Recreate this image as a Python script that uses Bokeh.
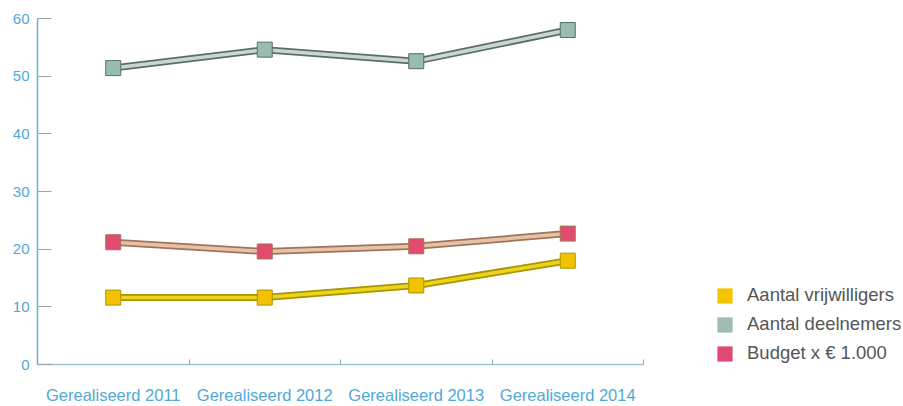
from bokeh.plotting import figure
from bokeh.models import Range1d, FixedTicker, LinearAxis, Legend, LegendItem, ColumnDataSource
from bokeh.embed import file_html
from bokeh.resources import INLINE

categories = ["Gerealiseerd 2011", "Gerealiseerd 2012", "Gerealiseerd 2013", "Gerealiseerd 2014"]
vrijwilligers = [11.6, 11.6, 13.7, 18.0]
deelnemers = [51.4, 54.6, 52.6, 58.0]
budget = [21.2, 19.6, 20.5, 22.7]
y_ticks = [0, 10, 20, 30, 40, 50, 60]

series = [
    ("Aantal vrijwilligers", vrijwilligers, "#f2c200", "#a89400", "#ecd41c", "#f5c400"),
    ("Aantal deelnemers", deelnemers, "#98bcae", "#5a6e66", "#c8d8d0", "#9dbdb1"),
    ("Budget x € 1.000", budget, "#e24a70", "#a07458", "#e6c2a8", "#e04a72"),
]

n = len(categories)
xs = [i + 0.5 for i in range(n)]
W, H = 903, 406
left, axis_right = 37, 643
x_end = n * (W - left) / (axis_right - left)

p = figure(width=W, height=H, output_backend="svg", toolbar_location=None,
           x_range=Range1d(0, x_end), y_range=Range1d(0, 60),
           min_border_left=left, min_border_right=0, min_border_top=18, min_border_bottom=41,
           x_axis_location=None, y_axis_location=None)
p.outline_line_color = None
p.grid.visible = False
p.background_fill_color = "white"
p.border_fill_color = "white"

label_color = "#4fa9d6"
font = "Liberation Sans"

yaxis = LinearAxis(ticker=FixedTicker(ticks=y_ticks))
yaxis.axis_line_color = "#62b4dc"
yaxis.axis_line_width = 1.5
yaxis.major_tick_in = 14
yaxis.major_tick_out = 0
yaxis.major_tick_line_color = "#9aa6aa"
yaxis.minor_tick_line_color = None
yaxis.major_label_text_color = label_color
yaxis.major_label_text_font = font
yaxis.major_label_text_font_size = "15px"
yaxis.major_label_standoff = 8
p.add_layout(yaxis, "left")

# tick marks at category boundaries
xaxis = LinearAxis(ticker=FixedTicker(ticks=[i + 1 for i in range(n)]), bounds=(0, n))
xaxis.axis_line_color = "#9cc4d4"
xaxis.axis_line_width = 1.5
xaxis.major_tick_in = 5
xaxis.major_tick_out = 0
xaxis.major_tick_line_color = "#8aa8b4"
xaxis.minor_tick_line_color = None
xaxis.major_label_text_font_size = "0px"
xaxis.major_label_text_color = None
p.add_layout(xaxis, "below")

# category labels at centers
laxis = LinearAxis(ticker=FixedTicker(ticks=xs))
laxis.major_label_overrides = {x: c for x, c in zip(xs, categories)}
laxis.axis_line_color = None
laxis.major_tick_line_color = None
laxis.minor_tick_line_color = None
laxis.major_label_text_color = label_color
laxis.major_label_text_font = font
laxis.major_label_text_font_size = "16.5px"
laxis.major_label_standoff = 15
p.add_layout(laxis, "below")

items = []
for name, vals, mcol, dark, light, lcol in series:
    src = ColumnDataSource(dict(x=xs, y=vals))
    p.line("x", "y", source=src, line_color=dark, line_width=7)
    p.line("x", "y", source=src, line_color=light, line_width=3.5)
    p.scatter("x", "y", source=src, marker="square", size=15, fill_color=mcol, line_color=dark, line_width=1)
    # zero-size bars: invisible in the plot, give a filled square in the legend
    lr = p.vbar(x="x", top="y", bottom="y", width=0, source=src, fill_color=lcol, line_color=None)
    items.append(LegendItem(label=name, renderers=[lr]))

legend = Legend(items=items, location=(678, 0), orientation="vertical")
legend.border_line_color = None
legend.background_fill_alpha = 0
legend.label_text_font = font
legend.label_text_font_size = "18.5px"
legend.label_text_color = "#555555"
legend.glyph_width = 19
legend.glyph_height = 19
legend.spacing = 7
legend.label_standoff = 13
legend.padding = 0
legend.margin = 0
legend.label_height = 20
p.add_layout(legend, "center")

open("out.html", "w").write(file_html(p, INLINE))
